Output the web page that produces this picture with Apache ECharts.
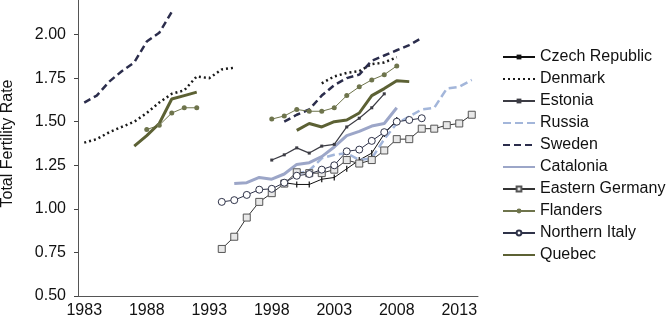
<!DOCTYPE html>
<html>
<head>
<meta charset="utf-8">
<title>Total Fertility Rate</title>
<script src="https://cdn.jsdelivr.net/npm/echarts@6/dist/echarts.min.js"></script>
<style>
  html, body { margin: 0; padding: 0; background: #fff; }
  #chart { width: 670px; height: 325px; }
</style>
</head>
<body>
<div id="chart"></div>
<script>
// years on the x axis (category axis, ticks between years)
const years = [];
for (let y = 1983; y <= 2014; y++) years.push(String(y));

// each series: [startYear, values] segments
const czech = [[1999, [1.15, 1.14, 1.14, 1.17, 1.18, 1.23, 1.28, 1.32, 1.43, 1.51]]];
const denmark = [
  [1983, [1.38, 1.40, 1.44, 1.47, 1.50, 1.55, 1.61, 1.66, 1.68, 1.76, 1.75, 1.80, 1.81]],
  [2002, [1.72, 1.76, 1.78, 1.79, 1.83, 1.84, 1.87]]
];
const estonia = [[1998, [1.28, 1.31, 1.35, 1.32, 1.36, 1.37, 1.47, 1.52, 1.58, 1.66]]];
const russia = [[2000, [1.20, 1.22, 1.29, 1.31, 1.32, 1.28, 1.29, 1.40, 1.49, 1.53, 1.57, 1.58, 1.69, 1.70, 1.74]]];
const sweden = [
  [1983, [1.61, 1.65, 1.73, 1.79, 1.84, 1.96, 2.01, 2.13]],
  [1999, [1.50, 1.54, 1.57, 1.65, 1.71, 1.75, 1.77, 1.85, 1.88, 1.91, 1.94, 1.98]]
];
const catalonia = [[1995, [1.145, 1.15, 1.18, 1.17, 1.20, 1.255, 1.265, 1.30, 1.355, 1.42, 1.445, 1.475, 1.49, 1.58]]];
const easternGermany = [[1994, [0.77, 0.84, 0.95, 1.04, 1.09, 1.145, 1.21, 1.205, 1.205, 1.225, 1.28, 1.26, 1.28, 1.335, 1.40, 1.40, 1.46, 1.46, 1.48, 1.49, 1.54]]];
const flanders = [
  [1988, [1.455, 1.48, 1.55, 1.58, 1.58]],
  [1998, [1.515, 1.533, 1.57, 1.56, 1.56, 1.58, 1.65, 1.70, 1.74, 1.77, 1.82]]
];
const northernItaly = [[1994, [1.04, 1.05, 1.08, 1.11, 1.115, 1.15, 1.19, 1.20, 1.225, 1.25, 1.33, 1.34, 1.39, 1.44, 1.50, 1.51, 1.52]]];
const quebec = [
  [1987, [1.36, 1.42, 1.49, 1.63, 1.65, 1.67]],
  [2000, [1.45, 1.49, 1.47, 1.50, 1.51, 1.55, 1.65, 1.69, 1.735, 1.73]]
];

const yTicks = [0.5, 0.75, 1.0, 1.25, 1.5, 1.75, 2.0];

// spread segments onto the year categories, null elsewhere
function toData(segments) {
  const out = years.map(() => null);
  segments.forEach(([start, values]) => {
    values.forEach((v, i) => { out[start - 1983 + i] = v; });
  });
  return out;
}

const FONT = '"Liberation Sans", Arial, Helvetica, sans-serif';

function lineSeries(name, segments, lineStyle, marker) {
  const s = {
    name: name,
    type: 'line',
    data: toData(segments),
    connectNulls: false,
    lineStyle: lineStyle,
    itemStyle: { color: lineStyle.color },
    symbol: 'none',
    emphasis: { disabled: true }
  };
  if (marker) {
    s.symbol = marker.symbol;
    s.symbolSize = marker.size;
    s.showSymbol = true;
    s.itemStyle = marker.itemStyle;
  }
  return s;
}

// legend entries; plain lines get an invisible marker
const hidden = { opacity: 0 };
const legendData = [
  { name: 'Czech Republic' },
  { name: 'Denmark', itemStyle: hidden },
  { name: 'Estonia' },
  { name: 'Russia', itemStyle: hidden },
  { name: 'Sweden', itemStyle: hidden },
  { name: 'Catalonia', itemStyle: hidden },
  { name: 'Eastern Germany' },
  { name: 'Flanders' },
  { name: 'Northern Italy' },
  { name: 'Quebec', itemStyle: hidden }
];

const chart = echarts.init(document.getElementById('chart'));

chart.setOption({
  animation: false,
  backgroundColor: '#fff',
  textStyle: { fontFamily: FONT },
  grid: { left: 78, right: 192, top: -9, bottom: 29, outerBoundsMode: 'none', containLabel: false },
  legend: {
    orient: 'vertical',
    left: 497,
    top: 44,
    itemWidth: 32,
    itemHeight: 6,
    itemGap: 6,
    textStyle: { fontFamily: FONT, fontSize: 16, color: '#111' },
    data: legendData
  },
  xAxis: {
    type: 'category',
    data: years,
    boundaryGap: true,
    axisLine: { lineStyle: { color: '#555', width: 1 } },
    axisTick: { interval: 0, length: 4, lineStyle: { color: '#444' } },
    axisLabel: { interval: 4, margin: 7, fontSize: 16, color: '#111', fontFamily: FONT },
    splitLine: { show: false }
  },
  yAxis: {
    type: 'value',
    min: 0.5,
    max: 2.25,
    interval: 0.25,
    name: 'Total Fertility Rate',
    nameLocation: 'middle',
    nameGap: 62,
    nameTextStyle: { fontSize: 16, color: '#111', fontFamily: FONT },
    axisLine: { show: true, lineStyle: { color: '#555', width: 1 } },
    axisTick: { show: true, length: 4, lineStyle: { color: '#444' } },
    axisLabel: {
      margin: 12, fontSize: 16, color: '#111', fontFamily: FONT,
      formatter: (v) => (yTicks.indexOf(v) >= 0 ? v.toFixed(2) : '')
    },
    splitLine: { show: false }
  },
  series: [
    lineSeries('Czech Republic', czech, { color: '#111', width: 1 },
      { symbol: 'rect', size: [1.2, 6], itemStyle: { color: '#111' } }),
    lineSeries('Denmark', denmark, { color: '#1a1a1a', width: 2.5, type: [2, 3] }),
    lineSeries('Estonia', estonia, { color: '#3c3c44', width: 1.2 },
      { symbol: 'rect', size: 3, itemStyle: { color: '#3c3c44' } }),
    lineSeries('Russia', russia, { color: '#a3b6da', width: 2.5, type: [8, 4] }),
    lineSeries('Sweden', sweden, { color: '#2b2d4c', width: 2.5, type: [7, 4] }),
    lineSeries('Catalonia', catalonia, { color: '#9ca6c8', width: 3 }),
    lineSeries('Eastern Germany', easternGermany, { color: '#333', width: 1 },
      { symbol: 'rect', size: 7, itemStyle: { color: '#e8e8e8', borderColor: '#555', borderWidth: 1 } }),
    lineSeries('Flanders', flanders, { color: '#6e744c', width: 1 },
      { symbol: 'circle', size: 5, itemStyle: { color: '#6e744c' } }),
    lineSeries('Northern Italy', northernItaly, { color: '#2f3349', width: 1 },
      { symbol: 'circle', size: 7, itemStyle: { color: '#fff', borderColor: '#2f3349', borderWidth: 1 } }),
    lineSeries('Quebec', quebec, { color: '#5c6134', width: 3 })
  ]
});
</script>
</body>
</html>
